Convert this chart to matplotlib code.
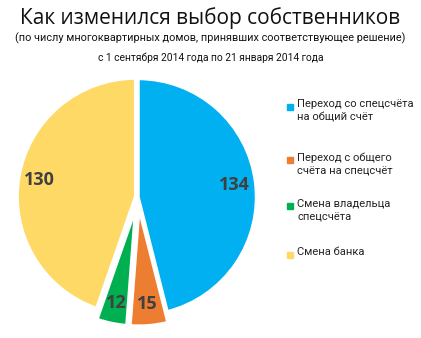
import matplotlib.pyplot as plt

categories = ["Переход со спецсчёта\nна общий счёт",
              "Переход с общего\nсчёта на спецсчёт",
              "Смена владельца\nспецсчёта",
              "Смена банка"]
values = [134, 15, 12, 130]
colors = ["#00B0F0", "#ED7D31", "#00B050", "#FFD966"]
explode = [0.0, 0.09, 0.09, 0.02]

plt.rcParams['font.family'] = ['Open Sans', 'DejaVu Sans']
small = ['Roboto', 'DejaVu Sans']

fig = plt.figure(figsize=(4.21, 3.38), dpi=100)
fig.patch.set_facecolor("white")

fig.text(0.5, 0.948, "Как изменился выбор собственников", ha="center", va="center",
         fontsize=15, color="#111111")
fig.text(0.5, 0.888, "(по числу многоквартирных домов, принявших соответствующее решение)",
         ha="center", va="center", fontsize=7.8, color="#111111", family=small)
fig.text(0.5, 0.828, "с 1 сентября 2014 года по 21 января 2014 года", ha="center", va="center",
         fontsize=7.4, color="#111111", family=small)

ax = fig.add_axes([10/421, 13/338, 256/421, 256/338])
wedges, texts, autotexts = ax.pie(values, colors=colors, startangle=90, counterclock=False,
                                  explode=explode, autopct=lambda p: f"{p*sum(values)/100:.0f}",
                                  pctdistance=0.82,
                                  wedgeprops=dict(edgecolor="white", linewidth=2.5))
for t in autotexts:
    t.set_fontsize(13)
    t.set_fontweight("bold")
    t.set_color("#404040")
ax.set_xlim(-1.08, 1.08)
ax.set_ylim(-1.08, 1.08)
ax.set_aspect("equal")

# legend drawn by hand: square + wrapped text
legend_y = [107, 160, 206, 255]
for lab, col, y in zip(categories, colors, legend_y):
    fig.patches.append(plt.Rectangle((287/421, 1 - (y + 3)/338), 6/421, 6/338,
                                     transform=fig.transFigure, color=col))
    fig.text(297/421, 1 - (y - 8)/338, lab, ha="left", va="top", fontsize=8.0,
             color="#222222", linespacing=1.4, family=small)

fig.savefig("out.png", dpi=100)
